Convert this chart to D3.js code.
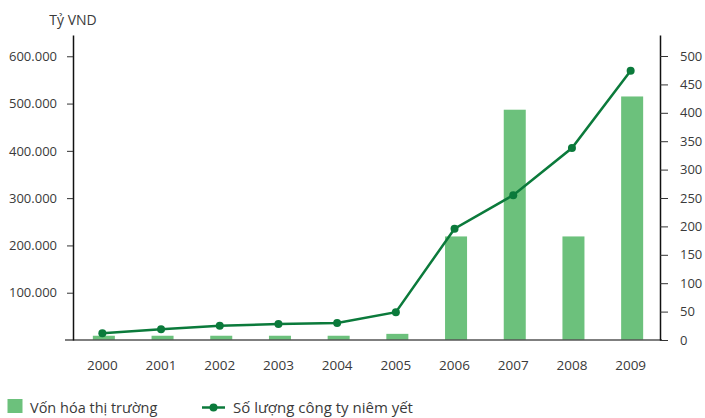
<!DOCTYPE html>
<html>
<head>
<meta charset="utf-8">
<script src="https://cdn.jsdelivr.net/npm/d3@7"></script>
<style>
  html, body { margin: 0; padding: 0; background: #fff; }
  svg { display: block; }
  text { font-family: "Open Sans", "Noto Sans", sans-serif; fill: #3a3a3a; }
</style>
</head>
<body>
<svg id="chart" width="705" height="418"></svg>
<script>
// Years on the x axis
const years = ["2000", "2001", "2002", "2003", "2004", "2005", "2006", "2007", "2008", "2009"];
// Market capitalisation, billion VND (bars, left axis)
const marketCap = [9000, 9000, 9000, 9000, 9000, 13000, 219000, 487000, 219000, 515000];
// Number of listed companies (line, right axis)
const listedCompanies = [12, 19, 25, 28, 30, 49, 196, 255, 338, 474];
// Axis tick values
const leftTicks = [100000, 200000, 300000, 400000, 500000, 600000];
const rightTicks = [0, 50, 100, 150, 200, 250, 300, 350, 400, 450, 500];
// Labels
const leftUnit = "Tỷ VND";
const barLabel = "Vốn hóa thị trường";
const lineLabel = "Số lượng công ty niêm yết";

const barColor = "#6cc17c";
const lineColor = "#0b7a3b";

const svg = d3.select("#chart");
const plotLeft = 73, plotRight = 660, plotTop = 35, plotBottom = 340;

const vn = d3.formatLocale({ decimal: ",", thousands: ".", grouping: [3], currency: ["", " ₫"] });
const fmt = vn.format(",d");

const x = d3.scaleBand().domain(years).range([plotLeft, plotRight])
  .paddingInner(0.625).paddingOuter(0.3125);
const yL = d3.scaleLinear().domain([0, 645000]).range([plotBottom, plotTop]);
const yR = d3.scaleLinear().domain([0, 537]).range([plotBottom, plotTop]);

// Bars
svg.append("g").selectAll("rect").data(years).join("rect")
  .attr("x", (d) => x(d) + 1.5)
  .attr("width", x.bandwidth())
  .attr("y", (d, i) => yL(marketCap[i]))
  .attr("height", (d, i) => plotBottom - yL(marketCap[i]))
  .attr("fill", barColor);

// Baseline
svg.append("line")
  .attr("x1", plotLeft - 8).attr("x2", plotRight + 2)
  .attr("y1", plotBottom).attr("y2", plotBottom)
  .attr("stroke", "#555").attr("stroke-width", 1.5);

// Left axis
const gL = svg.append("g").attr("transform", `translate(${plotLeft},0)`)
  .call(d3.axisLeft(yL).tickValues(leftTicks).tickFormat(fmt).tickSize(6).tickPadding(10).tickSizeOuter(0));
gL.select(".domain").attr("stroke", "#111").attr("stroke-width", 1.5);
gL.selectAll(".tick line").attr("stroke", "#333");
gL.selectAll(".tick text").style("font-size", "13px").attr("fill", "#3a3a3a");

// Right axis
const gR = svg.append("g").attr("transform", `translate(${plotRight},0)`)
  .call(d3.axisRight(yR).tickValues(rightTicks).tickSize(8).tickPadding(12).tickSizeOuter(0));
gR.select(".domain").attr("stroke", "#111").attr("stroke-width", 1.5);
gR.selectAll(".tick line").attr("stroke", "#333");
gR.selectAll(".tick text").style("font-size", "13px").attr("fill", "#3a3a3a");

// Bottom axis labels
const gX = svg.append("g").attr("transform", `translate(0,${plotBottom})`)
  .call(d3.axisBottom(x).tickSize(0).tickPadding(20));
gX.select(".domain").remove();
gX.selectAll(".tick text").style("font-size", "13.5px").attr("fill", "#3a3a3a");

// Unit label
svg.append("text").attr("x", plotLeft).attr("y", 25).attr("text-anchor", "middle")
  .style("font-size", "14px").text(leftUnit);

// Line with markers
const cx = (d) => x(d) + x.bandwidth() / 2;
const line = d3.line().x((d, i) => cx(years[i])).y((d) => yR(d));
svg.append("path").datum(listedCompanies)
  .attr("d", line).attr("fill", "none")
  .attr("stroke", lineColor).attr("stroke-width", 2.5);
svg.append("g").selectAll("circle").data(listedCompanies).join("circle")
  .attr("cx", (d, i) => cx(years[i])).attr("cy", (d) => yR(d))
  .attr("r", 4).attr("fill", lineColor);

// Legend
const lg = svg.append("g");
lg.append("rect").attr("x", 7.5).attr("y", 399).attr("width", 15).attr("height", 14).attr("fill", barColor);
lg.append("text").attr("x", 30).attr("y", 413).style("font-size", "14.5px").text(barLabel);
lg.append("line").attr("x1", 202).attr("x2", 225).attr("y1", 407.5).attr("y2", 407.5)
  .attr("stroke", lineColor).attr("stroke-width", 2.5);
lg.append("circle").attr("cx", 213.5).attr("cy", 407.5).attr("r", 4).attr("fill", lineColor);
lg.append("text").attr("x", 233).attr("y", 413).style("font-size", "15px").text(lineLabel);
</script>
</body>
</html>
